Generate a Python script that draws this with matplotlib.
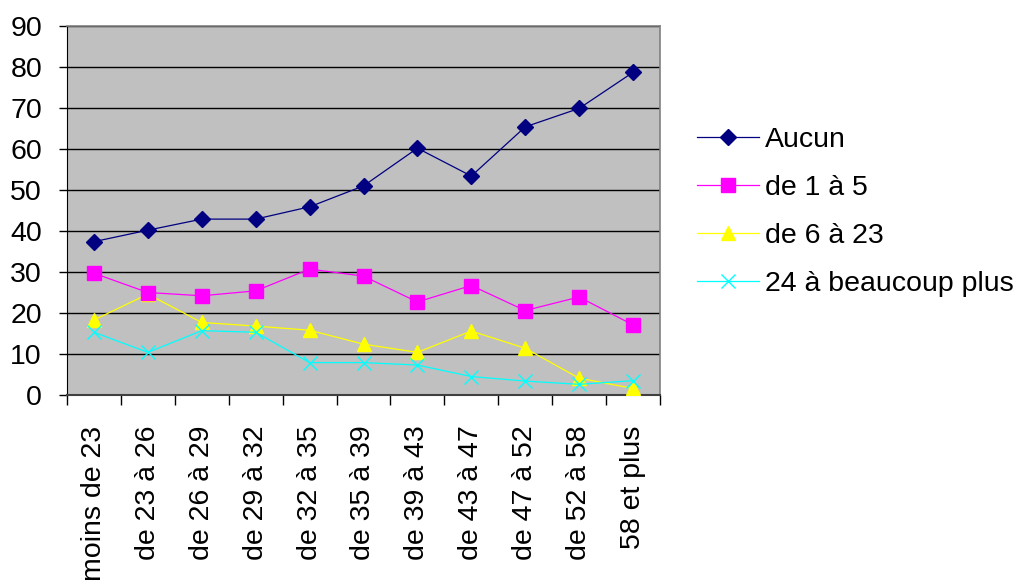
import matplotlib
matplotlib.use("Agg")
import matplotlib.pyplot as plt

categories = ["moins de 23", "de 23 à 26", "de 26 à 29", "de 29 à 32", "de 32 à 35",
              "de 35 à 39", "de 39 à 43", "de 43 à 47", "de 47 à 52", "de 52 à 58", "58 et plus"]
aucun = [37.4, 40.2, 42.9, 42.9, 45.9, 51.0, 60.2, 53.4, 65.4, 69.9, 78.7]
de1a5 = [29.7, 25.0, 24.2, 25.4, 30.7, 29.0, 22.7, 26.7, 20.6, 23.9, 17.1]
de6a23 = [18.3, 24.6, 17.7, 16.8, 15.8, 12.4, 10.4, 15.6, 11.4, 4.1, 1.6]
de24plus = [15.3, 10.4, 15.7, 15.3, 7.9, 7.9, 7.3, 4.5, 3.4, 2.6, 3.5]
series_names = ["Aucun", "de 1 à 5", "de 6 à 23", "24 à beaucoup plus"]
yticks = [0, 10, 20, 30, 40, 50, 60, 70, 80, 90]

plt.rcParams['font.family'] = ['Liberation Sans', 'DejaVu Sans']
FS = 20.5

fig = plt.figure(figsize=(10.24, 5.85), dpi=100)
ax = fig.add_axes([67/1024, 1-395/585, 593/1024, 369/585])
ax.set_facecolor("#C0C0C0")

x = list(range(len(categories)))
ax.plot(x, aucun, color="#000080", lw=0.9, marker="D", ms=8, mfc="#000080", mec="#000080", label=series_names[0], zorder=5)
ax.plot(x, de1a5, color="#FF00FF", lw=0.9, marker="s", ms=9.5, mfc="#FF00FF", mec="#FF00FF", label=series_names[1], zorder=4)
ax.plot(x, de6a23, color="#FFFF00", lw=0.9, marker="^", ms=10.5, mfc="#FFFF00", mec="#FFFF00", label=series_names[2], zorder=3)
ax.plot(x, de24plus, color="#00FFFF", lw=0.9, marker="x", ms=10.5, mew=1.0, label=series_names[3], zorder=3, clip_on=False)

ax.set_xlim(-0.5, len(categories) - 0.5)
ax.set_ylim(0, 90)
ax.set_yticks(yticks)
ax.set_yticklabels([str(v) for v in yticks], fontsize=FS)
ax.set_xticks(x)
ax.set_xticklabels(categories, rotation=90, fontsize=FS)
ax.tick_params(axis="x", which="major", length=0, pad=22)
ax.set_xticks([i - 0.5 for i in range(len(categories) + 1)], minor=True)
ax.tick_params(axis="x", which="minor", length=7, width=1, color="black", direction="out")
ax.tick_params(axis="y", length=6, width=1, direction="out", pad=12)

ax.yaxis.grid(True, color="black", lw=1)
ax.set_axisbelow(True)
for side in ["top", "right"]:
    ax.spines[side].set_color("#808080")
    ax.spines[side].set_linewidth(1.2)
ax.spines["left"].set_color("black")
ax.spines["bottom"].set_color("#404040")
ax.spines["bottom"].set_linewidth(1.5)

leg = fig.legend(loc="upper left", bbox_to_anchor=(671/1024, 1-101/585), frameon=False,
                 fontsize=FS, handlelength=2.2, handletextpad=0.2, labelspacing=0.78)

fig.savefig("out.png", dpi=100)
